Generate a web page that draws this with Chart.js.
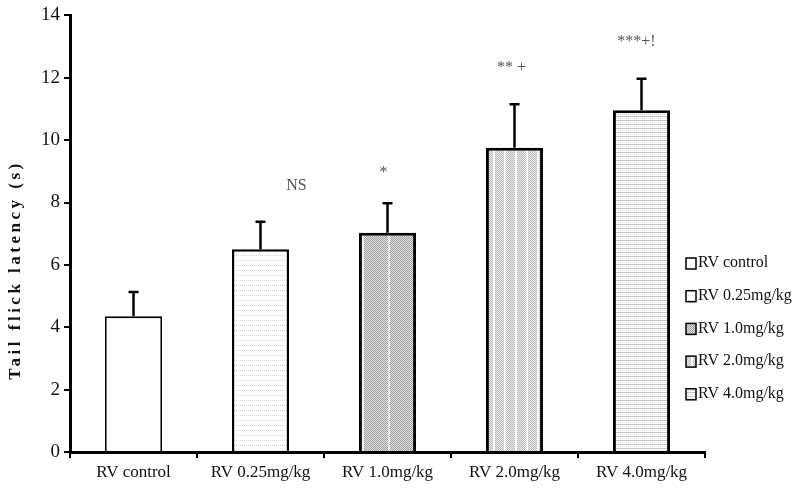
<!DOCTYPE html>
<html>
<head>
<meta charset="utf-8">
<script src="https://cdn.jsdelivr.net/npm/chart.js@4/dist/chart.umd.min.js"></script>
<style>
  html, body { margin: 0; padding: 0; background: #fff; }
  #wrap { width: 798px; height: 498px; }
</style>
</head>
<body>
<div id="wrap"><canvas id="barChart" width="798" height="498"></canvas></div>
<script>
const groups = ['RV control', 'RV 0.25mg/kg', 'RV 1.0mg/kg', 'RV 2.0mg/kg', 'RV 4.0mg/kg'];
const latency = [4.35, 6.5, 7.03, 9.76, 10.96];
const sem = [0.78, 0.88, 0.95, 1.39, 1.01];
const marks = ['', 'NS', '*', '** +', '***+!'];
const yTicks = [0, 2, 4, 6, 8, 10, 12, 14];
const yTitle = 'Tail flick latency (s)';

// small tiles that imitate the printed fill patterns
function makePattern(kind) {
    const c = document.createElement('canvas');
    const g = c.getContext('2d');
    if (kind === 'white') {
        c.width = c.height = 4;
        g.fillStyle = '#fff'; g.fillRect(0, 0, 4, 4);
    } else if (kind === 'dots') {
        c.width = 4; c.height = 5;
        g.fillStyle = '#fff'; g.fillRect(0, 0, 4, 5);
        g.fillStyle = '#d4d4d4'; g.fillRect(0, 0, 1, 1); g.fillRect(2, 0, 1, 1);
    } else if (kind === 'grey') {
        c.width = 26; c.height = 2;
        g.fillStyle = '#e0e0e0'; g.fillRect(0, 0, 26, 2);
        g.fillStyle = '#a0a0a0';
        for (let x = 0; x < 24; x++) g.fillRect(x, x % 2, 1, 1);
        g.fillStyle = '#eeeeee'; g.fillRect(24, 0, 2, 2);
    } else if (kind === 'stripes') {
        c.width = 11; c.height = 2;
        g.fillStyle = '#ececec'; g.fillRect(0, 0, 11, 2);
        g.fillStyle = '#b8b8b8';
        for (let x = 0; x < 9; x++) g.fillRect(x, x % 2, 1, 1);
        g.fillStyle = '#fafafa'; g.fillRect(9, 0, 2, 2);
    } else {
        c.width = 4; c.height = 4;
        g.fillStyle = '#fff'; g.fillRect(0, 0, 4, 4);
        g.fillStyle = '#c4c4c4'; g.fillRect(0, 0, 4, 1);
        g.fillStyle = '#dcdcdc'; g.fillRect(0, 2, 1, 1); g.fillRect(2, 2, 1, 1);
    }
    return g.createPattern(c, 'repeat');
}

const fills = ['white', 'dots', 'grey', 'stripes', 'lines'].map(makePattern);
const borders = [1.8, 2.5, 3, 3, 3];
const markShift = [0, 36, -4, -3, -5];
const markLift = [0, 28, 22, 28, 29];
const serif = '"Liberation Serif", "DejaVu Serif", serif';

const errorBars = {
    id: 'errorBars',
    afterDatasetsDraw: (chart) => {
        const { ctx } = chart;
        const y = chart.scales.y;
        const meta = chart.getDatasetMeta(0);
        ctx.save();
        ctx.strokeStyle = '#000';
        ctx.lineWidth = 2.5;
        meta.data.forEach((bar, i) => {
            const top = y.getPixelForValue(latency[i] + sem[i]);
            ctx.beginPath();
            ctx.moveTo(bar.x, bar.y);
            ctx.lineTo(bar.x, top);
            ctx.moveTo(bar.x - 5, top);
            ctx.lineTo(bar.x + 5, top);
            ctx.stroke();
            if (marks[i]) {
                ctx.fillStyle = '#555';
                ctx.font = '16px ' + serif;
                ctx.textAlign = 'center';
                ctx.textBaseline = 'bottom';
                ctx.fillText(marks[i], bar.x + markShift[i], top - markLift[i]);
            }
        });
        ctx.restore();
    }
};

const sideLegend = {
    id: 'sideLegend',
    afterDraw: (chart) => {
        const { ctx } = chart;
        ctx.save();
        ctx.font = '16px ' + serif;
        ctx.textBaseline = 'middle';
        ctx.textAlign = 'left';
        groups.forEach((name, i) => {
            const yy = 263 + i * 32.7;
            ctx.fillStyle = fills[i];
            ctx.fillRect(686, yy - 5, 10, 11);
            ctx.strokeStyle = '#000';
            ctx.lineWidth = 1.5;
            ctx.strokeRect(686, yy - 5, 10, 11);
            ctx.fillStyle = '#111';
            ctx.fillText(name, 698, yy);
        });
        // spaced-out bold axis title
        ctx.translate(16, 270);
        ctx.rotate(-Math.PI / 2);
        ctx.font = 'bold 17px ' + serif;
        ctx.letterSpacing = '3.5px';
        ctx.textAlign = 'center';
        ctx.fillText(yTitle, 0, 0);
        ctx.restore();
    }
};

const config = {
    type: 'bar',
    data: {
        labels: groups,
        datasets: [{
            data: latency,
            backgroundColor: fills,
            borderColor: '#000',
            borderWidth: borders,
            borderSkipped: 'bottom',
            barPercentage: 0.45,
            categoryPercentage: 1
        }]
    },
    options: {
        responsive: false,
        animation: false,
        layout: { padding: { top: 2, right: 93, left: 0, bottom: 0 } },
        plugins: {
            legend: { display: false },
            tooltip: { enabled: false }
        },
        scales: {
            x: {
                offset: true,
                border: { display: true, color: '#000', width: 3 },
                grid: { offset: true, drawOnChartArea: false, color: '#000', lineWidth: 2, tickLength: 6 },
                ticks: { color: '#111', font: { family: serif, size: 17 }, padding: 4, maxRotation: 0 },
                afterFit: (s) => { s.height = 46; }
            },
            y: {
                min: 0,
                max: 14,
                afterBuildTicks: (s) => { s.ticks = yTicks.map(v => ({ value: v })); },
                border: { display: true, color: '#000', width: 3 },
                grid: { drawOnChartArea: false, color: '#000', lineWidth: 2, tickLength: 6 },
                ticks: { color: '#111', font: { family: serif, size: 19 }, padding: 4 },
                afterFit: (s) => { s.width = 70; }
            }
        }
    },
    plugins: [errorBars, sideLegend]
};

new Chart(document.getElementById('barChart').getContext('2d'), config);
</script>
</body>
</html>
